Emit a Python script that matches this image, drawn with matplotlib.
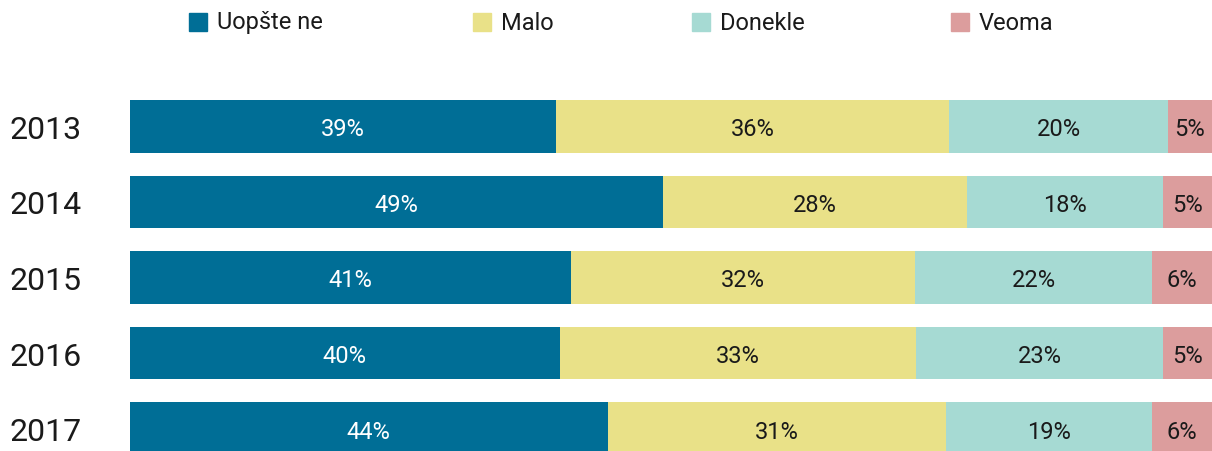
import numpy as np
import matplotlib
matplotlib.use('Agg')
import matplotlib.pyplot as plt
import matplotlib.transforms as mtransforms
from matplotlib.patches import Rectangle

years = ['2013', '2014', '2015', '2016', '2017']
categories = ['Uopšte ne', 'Malo', 'Donekle', 'Veoma']

# printed (rounded) labels
uopste_ne = [39, 49, 41, 40, 44]
malo = [36, 28, 32, 33, 31]
donekle = [20, 18, 22, 23, 19]
veoma = [5, 5, 6, 5, 6]

# segment widths as drawn (unrounded shares)
uopste_ne_w = [39.4, 49.3, 40.8, 39.8, 44.2]
malo_w = [36.4, 28.1, 31.8, 32.9, 31.2]
donekle_w = [20.2, 18.1, 21.9, 22.9, 19.1]
veoma_w = [4.1, 4.5, 5.5, 4.5, 5.5]

colors = ['#006E96', '#E9E188', '#A6DAD3', '#DC9D9D']
text_colors = ['white', '#1a1a1a', '#1a1a1a', '#1a1a1a']

plt.rcParams['font.family'] = ['Roboto', 'DejaVu Sans']

fig = plt.figure(figsize=(12.12, 4.52), dpi=100)
ax = fig.add_axes([129.5 / 1212, -4 / 452, 1 - 129.5 / 1212, 355 / 452])

labels = [uopste_ne, malo, donekle, veoma]
widths = np.array([uopste_ne_w, malo_w, donekle_w, veoma_w])
widths = widths / widths.sum(axis=0) * 100
y = np.arange(len(years))

# labels sit a little below the bar centre in the original
lab_trans = mtransforms.offset_copy(ax.transData, fig=fig, x=0, y=-2.5, units='dots')

left = np.zeros(len(years))
for i, cat in enumerate(categories):
    ax.barh(y, widths[i], left=left, height=0.7, color=colors[i], edgecolor='none')
    for j in range(len(years)):
        ax.text(left[j] + widths[i][j] / 2, y[j], f'{labels[i][j]}%', transform=lab_trans,
                ha='center', va='center', fontsize=17, color=text_colors[i])
    left += widths[i]

ax.set_xlim(0, 100)
ax.set_ylim(4.35, -0.35)
ax.axis('off')

# year labels, left aligned at the figure edge
trans = mtransforms.blended_transform_factory(fig.transFigure, ax.transData)
trans = mtransforms.offset_copy(trans, fig=fig, x=0, y=-3, units='dots')
for j, yr in enumerate(years):
    ax.text(10 / 1212, y[j], yr, transform=trans, ha='left', va='center',
            fontsize=23, color='#1a1a1a')

# legend along the top
leg_x = [189, 473, 692, 951]
for i, cat in enumerate(categories):
    fig.patches.append(Rectangle((leg_x[i] / 1212, 1 - 32 / 452), 18 / 1212, 18 / 452,
                                 transform=fig.transFigure, color=colors[i]))
    fig.text((leg_x[i] + 28) / 1212, 1 - 23 / 452, cat, ha='left', va='center',
             fontsize=17, color='#1a1a1a')

fig.savefig('out.png', dpi=100)
